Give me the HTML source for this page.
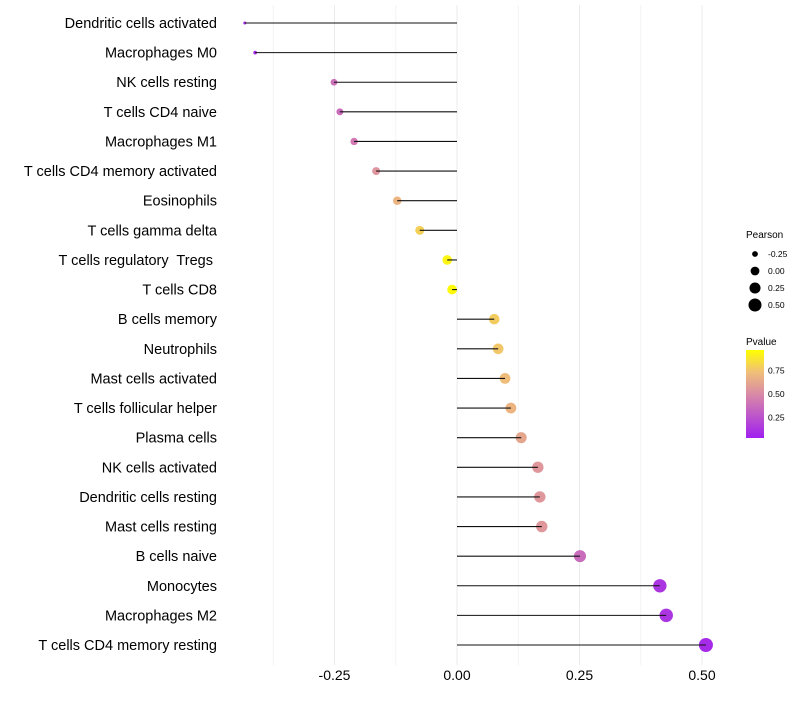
<!DOCTYPE html>
<html><head><meta charset="utf-8"><style>
body{margin:0;background:#fff;font-family:"Liberation Sans",sans-serif}
text{white-space:pre}
</style></head><body>
<svg id="chart" width="800" height="700" xmlns="http://www.w3.org/2000/svg" font-family="Liberation Sans, sans-serif">
<defs><linearGradient id="pg" x1="0" y1="1" x2="0" y2="0">
<stop offset="0" stop-color="#a020f0"/><stop offset="0.5" stop-color="#d98aa6"/><stop offset="0.75" stop-color="#f0bf78"/><stop offset="1" stop-color="#ffff00"/></linearGradient></defs>
<g id="grid"></g>
<g id="dots"></g>
<g id="marks"></g>
<g id="ylabels"></g>
<g id="xlabels"></g>
<g>
<text x="746" y="238" font-size="10" fill="#000">Pearson</text>
<g id="sizeleg"></g>
</g>
<g>
<text x="746" y="345" font-size="10" fill="#000">Pvalue</text>
<rect x="746" y="350" width="18" height="88" fill="url(#pg)"/>
<g id="colleg"></g>
</g>
</svg>
<script>
const categories=["Dendritic cells activated","Macrophages M0","NK cells resting","T cells CD4 naive","Macrophages M1","T cells CD4 memory activated","Eosinophils","T cells gamma delta","T cells regulatory  Tregs ","T cells CD8","B cells memory","Neutrophils","Mast cells activated","T cells follicular helper","Plasma cells","NK cells activated","Dendritic cells resting","Mast cells resting","B cells naive","Monocytes","Macrophages M2","T cells CD4 memory resting"];
const pearson=[-0.433,-0.412,-0.251,-0.239,-0.210,-0.165,-0.122,-0.076,-0.020,-0.010,0.076,0.084,0.098,0.110,0.131,0.165,0.169,0.173,0.251,0.414,0.427,0.508];
const pvalue=[0.04,0.07,0.38,0.36,0.42,0.55,0.70,0.82,0.96,0.98,0.80,0.78,0.74,0.70,0.63,0.56,0.56,0.56,0.36,0.10,0.10,0.05];
const xTicks=[-0.25,0,0.25,0.5];
const xTickLabels=["-0.25","0.00","0.25","0.50"];
const sizeLegendVals=[-0.25,0,0.25,0.5];
const colorLegendVals=[0.25,0.5,0.75];
const NS="http://www.w3.org/2000/svg";
const x=v=>457+v*490;
const y=i=>23+i*(622/21);
const rad=v=>Math.sqrt(Math.max(1.5,24+50*v));
const stops=[[0,[160,32,240]],[0.5,[217,138,166]],[0.75,[240,191,120]],[1,[255,255,0]]];
function col(p){for(let k=1;k<stops.length;k++){if(p<=stops[k][0]){const a=stops[k-1],b=stops[k],t=(p-a[0])/(b[0]-a[0]);return "rgb("+a[1].map((c,j)=>Math.round(c+(b[1][j]-c)*t)).join(",")+")";}}return "rgb(255,255,0)";}
function mk(tag,attrs,parent){const e=document.createElementNS(NS,tag);for(const k in attrs)e.setAttribute(k,attrs[k]);document.getElementById(parent).appendChild(e);return e;}
for(let v=-0.375;v<=0.55;v+=0.125){const g=mk("line",{x1:x(v),x2:x(v),y1:5,y2:665,stroke:Math.abs((v*4)%1)<1e-6?"#ebebeb":"#f4f4f4","stroke-width":1},"grid");

}
categories.forEach((c,i)=>{
const d=mk("circle",{cx:x(pearson[i]),cy:y(i),r:rad(pearson[i]),fill:col(pvalue[i])},"dots");


const l=mk("line",{x1:x(0),x2:x(pearson[i]),y1:y(i),y2:y(i),stroke:"#111","stroke-width":1.1},"marks");


const t=mk("text",{x:217,y:y(i)+5,"text-anchor":"end","font-size":14.5,fill:"#000"},"ylabels");t.textContent=c;


});
xTicks.forEach((v,i)=>{const t=mk("text",{x:x(v),y:680,"text-anchor":"middle","font-size":14,fill:"#000"},"xlabels");t.textContent=xTickLabels[i];

});
sizeLegendVals.forEach((v,i)=>{const cy=254+i*17;
const c=mk("circle",{cx:755,cy:cy,r:rad(v)-0.5,fill:"#000"},"sizeleg");


const t=mk("text",{x:768,y:cy+3,"font-size":8.5,fill:"#000"},"sizeleg");t.textContent=v.toFixed(2);

});
colorLegendVals.forEach(v=>{const cy=441-v*94;
const t=mk("text",{x:768,y:cy+3,"font-size":8.5,fill:"#000"},"colleg");t.textContent=v.toFixed(2);

});
</script>
</body></html>
